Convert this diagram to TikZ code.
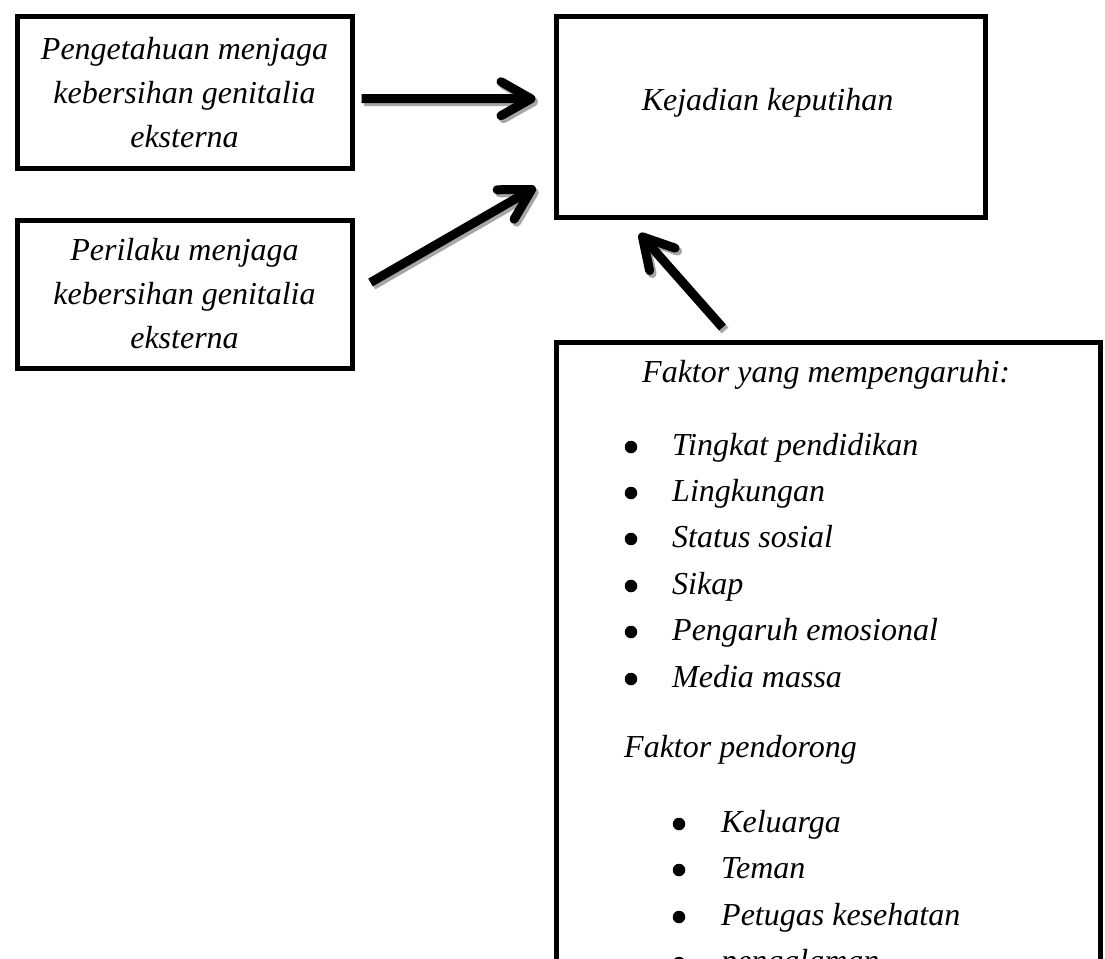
\documentclass[tikz,border=0pt]{standalone}
\usepackage{fontspec}
\setmainfont{Liberation Serif}
\usetikzlibrary{arrows.meta,calc}
\tikzset{
  box/.style={draw, line width=5pt, inner sep=0pt, anchor=north west},
  txt/.style={font=\fontsize{32}{44}\selectfont\itshape, inner sep=0pt},
  bul/.style={circle, fill=black, inner sep=0pt, minimum size=12.5pt},
  conn/.style={line width=9pt, -{Straight Barb[length=30pt,width=34pt,round]}},
  shadowconn/.style={conn, draw=black!35, transform canvas={xshift=2.5pt,yshift=-3pt}},
}
\newcommand\myarrow[2]{%
  \draw[shadowconn] #1 -- #2;
  \draw[conn] #1 -- #2;}
\begin{document}
\begin{tikzpicture}[x=1pt,y=-1pt]
\clip (0,0) rectangle (1105,958);
\fill[white] (0,0) rectangle (1105,958);
% boxes
\node[box, txt, align=center, minimum width=335pt, minimum height=151pt] (b1) at (14.5,14.5)
  {Pengetahuan menjaga\\kebersihan genitalia\\eksterna};
\node[box, txt, align=center, minimum width=335pt, minimum height=148pt] (b2) at (14.5,217.5)
  {Perilaku menjaga\\kebersihan genitalia\\eksterna};
\node[box, minimum width=429pt, minimum height=200.5pt] (b3) at (553.5,14.5) {};
\node[txt, anchor=base] (t3) at (767.5,110) {Kejadian keputihan};
\node[box, minimum width=544pt, minimum height=660pt] (b4) at (553.5,340) {};
% texts in box 4
\node[txt, anchor=base west] (f1) at (642,382) {Faktor yang mempengaruhi:};
\foreach \y/\t [count=\i] in {455/Tingkat pendidikan, 501/Lingkungan, 547/Status sosial, 594/Sikap, 640/Pengaruh emosional, 687/Media massa}{
  \node[bul] (ba\i) at (631,\y-8) {};
  \node[txt, anchor=base west] (ta\i) at (672,\y) {\t};
}
\node[txt, anchor=base west] (f2) at (624,757) {Faktor pendorong};
\foreach \y/\t [count=\i] in {832/Keluarga, 878/Teman, 925/Petugas kesehatan, 971/pengalaman}{
  \node[bul] (bb\i) at (679,\y-8) {};
  \node[txt, anchor=base west] (tb\i) at (721,\y) {\t};
}
% connectors
\myarrow{($(b1.east)+(7,6)$)}{($(b3.west)+(-18,-18.5)$)}
\myarrow{($(b2.east)+(16,-11.5)$)}{($(b3.west)+(-18,70)$)}
\myarrow{($(b4.north)+(-105.5,-12.5)$)}{($(b3.south)+(-131,13.5)$)}
\end{tikzpicture}
\end{document}
